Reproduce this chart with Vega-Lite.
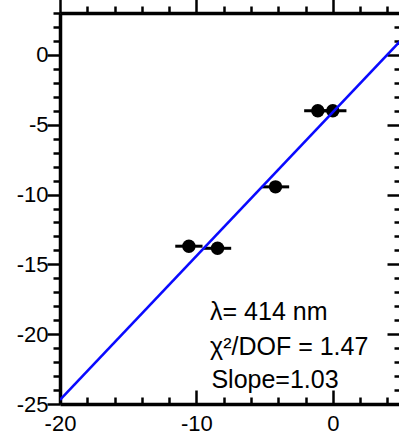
{
  "$schema": "https://vega.github.io/schema/vega-lite/v6.json",
  "width": 341,
  "height": 391,
  "autosize": {"type": "none"},
  "padding": {"left": 60, "top": 13, "right": 0, "bottom": 28},
  "background": "white",
  "config": {
    "view": {"stroke": null},
    "axis": {
      "grid": false,
      "title": null,
      "domainColor": "black",
      "domainWidth": 3.5,
      "tickColor": "black",
      "tickWidth": 2.5,
      "labelFont": "Liberation Sans",
      "labelFontSize": 22,
      "labelColor": "black",
      "labelOverlap": false,
      "labelFlush": false,
      "labelBound": false
    }
  },
  "datasets": {
    "points": [
      {"x": -10.55, "y": -13.7, "xlo": -11.55, "xhi": -9.55},
      {"x": -8.45, "y": -13.85, "xlo": -9.45, "xhi": -7.45},
      {"x": -4.2, "y": -9.45, "xlo": -5.2, "xhi": -3.2},
      {"x": -1.1, "y": -4.0, "xlo": -2.1, "xhi": -0.1},
      {"x": 0.0, "y": -4.0, "xlo": -1.0, "xhi": 1.0}
    ],
    "fit": [
      {"x": -20, "y": -24.7},
      {"x": 5, "y": 1.05}
    ],
    "notes": [
      {"x": -9.0, "y": -19.0, "label": "λ= 414 nm"},
      {"x": -9.0, "y": -21.5, "label": "χ²/DOF = 1.47"},
      {"x": -8.9, "y": -23.85, "label": "Slope=1.03"}
    ]
  },
  "layer": [
    {
      "data": {"name": "points"},
      "mark": {"type": "rule", "strokeWidth": 3, "color": "black"},
      "encoding": {
        "x": {
          "field": "xlo", "type": "quantitative",
          "scale": {"domain": [-20, 5], "nice": false, "zero": false},
          "axis": {
            "orient": "bottom",
            "values": [-20, -18, -16, -14, -12, -10, -8, -6, -4, -2, 0, 2, 4],
            "tickSize": {"condition": {"test": "datum.value % 10 === 0", "value": -14}, "value": -7},
            "labelExpr": "datum.value % 10 === 0 ? '' + datum.value : ''",
            "labelPadding": 23
          }
        },
        "x2": {"field": "xhi"},
        "y": {
          "field": "y", "type": "quantitative",
          "scale": {"domain": [-25, 3], "nice": false, "zero": false},
          "axis": {
            "orient": "left",
            "values": [-25, -24, -23, -22, -21, -20, -19, -18, -17, -16, -15, -14, -13, -12, -11, -10, -9, -8, -7, -6, -5, -4, -3, -2, -1, 0, 1, 2, 3],
            "tickSize": {"condition": {"test": "datum.value % 5 === 0", "value": 13}, "value": 7},
            "labelExpr": "datum.value % 5 === 0 ? '' + datum.value : ''",
            "labelPadding": -1
          }
        }
      }
    },
    {
      "data": {"name": "points"},
      "mark": {"type": "point", "shape": "circle", "filled": true, "size": 180, "color": "black", "opacity": 1},
      "encoding": {
        "x": {
          "field": "x", "type": "quantitative",
          "scale": {"domain": [-20, 5], "nice": false, "zero": false},
          "axis": {
            "orient": "top",
            "values": [-20, -18, -16, -14, -12, -10, -8, -6, -4, -2, 0, 2, 4],
            "tickSize": {"condition": {"test": "datum.value % 10 === 0", "value": 14}, "value": 7},
            "labels": false
          }
        },
        "y": {
          "field": "y", "type": "quantitative",
          "scale": {"domain": [-25, 3], "nice": false, "zero": false},
          "axis": {
            "orient": "right",
            "values": [-25, -24, -23, -22, -21, -20, -19, -18, -17, -16, -15, -14, -13, -12, -11, -10, -9, -8, -7, -6, -5, -4, -3, -2, -1, 0, 1, 2, 3],
            "tickSize": {"condition": {"test": "datum.value % 5 === 0", "value": -14}, "value": -7},
            "labels": false
          }
        }
      }
    },
    {
      "data": {"name": "fit"},
      "mark": {"type": "line", "color": "#0a0aff", "strokeWidth": 2.5, "clip": true},
      "encoding": {
        "x": {"field": "x", "type": "quantitative", "axis": null},
        "y": {"field": "y", "type": "quantitative", "axis": null}
      }
    },
    {
      "data": {"name": "notes"},
      "mark": {"type": "text", "align": "left", "baseline": "alphabetic", "font": "Liberation Sans", "fontSize": 25, "color": "black"},
      "encoding": {
        "x": {"field": "x", "type": "quantitative", "axis": null},
        "y": {"field": "y", "type": "quantitative", "axis": null},
        "text": {"field": "label"}
      }
    }
  ],
  "resolve": {"axis": {"x": "independent", "y": "independent"}}
}
